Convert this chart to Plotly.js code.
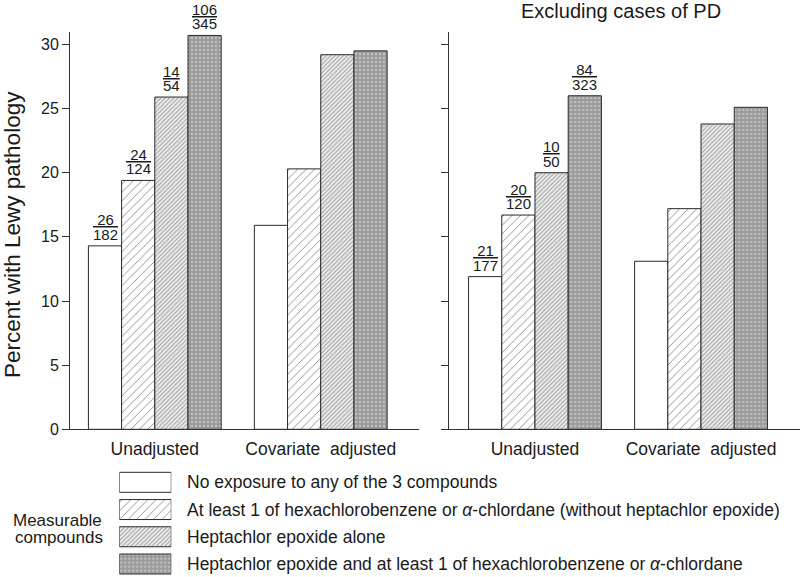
<!DOCTYPE html>
<html><head><meta charset="utf-8">
<script src="https://cdn.plot.ly/plotly-3.0.1.min.js"></script>
<style>html,body{margin:0;padding:0;background:#fff;}</style>
</head><body><div id="chart" style="width:800px;height:577px;"></div>
<script>
// ---- data ----
const categories = ['Unadjusted', 'Covariate\u00a0 adjusted'];
const seriesNames = [
  'No exposure to any of the 3 compounds',
  'At least 1 of hexachlorobenzene or <i>α</i>-chlordane (without heptachlor epoxide)',
  'Heptachlor epoxide alone',
  'Heptachlor epoxide and at least 1 of hexachlorobenzene or <i>α</i>-chlordane'
];
// Left panel: all cases (percent), [Unadjusted, Covariate adjusted]
const allNone      = [14.3, 15.9];
const allHexOrChl  = [19.4, 20.3];
const allHeptAlone = [25.9, 29.2];
const allHeptPlus  = [30.7, 29.5];
// Right panel: excluding cases of PD
const exNone      = [11.9, 13.1];
const exHexOrChl  = [16.7, 17.2];
const exHeptAlone = [20.0, 23.8];
const exHeptPlus  = [26.0, 25.1];
// Counts shown above unadjusted bars
const allNum = [26, 24, 14, 106];
const allDen = [182, 124, 54, 345];
const exNum  = [21, 20, 10, 84];
const exDen  = [177, 120, 50, 323];
const yTicks = [0, 5, 10, 15, 20, 25, 30];
const panelTitle = 'Excluding cases of PD';
const yTitle = 'Percent with Lewy pathology';
const legendTitle = ['Measurable', 'compounds'];

// ---- styles ----
const styles = [
  {color:'#ffffff', pattern:{shape:''}},
  {color:'#ffffff', pattern:{shape:'/', bgcolor:'#ffffff', fgcolor:'#7a7a7a', size:6, solidity:0.13}},
  {color:'#e2e2e2', pattern:{shape:'/', bgcolor:'#ececec', fgcolor:'#9c9c9c', size:3, solidity:0.33}},
  {color:'#9b9b9b', pattern:{shape:'.', bgcolor:'#9b9b9b', fgcolor:'#c4c4c4', size:4, solidity:0.25}}
];
const lineStyle = {color:'#2a2a2a', width:1};
const bargap = 0.2;
const xPos = categories.map((c,i)=>i);

const panels = [
  {xa:'x', ya:'y', vals:[allNone, allHexOrChl, allHeptAlone, allHeptPlus], num:allNum, den:allDen},
  {xa:'x2', ya:'y2', vals:[exNone, exHexOrChl, exHeptAlone, exHeptPlus], num:exNum, den:exDen}
];

const traces = [];
const annotations = [];
const barW = (1 - bargap) / 4;
const txt = '#1a1a1a';
panels.forEach(p => {
  p.vals.forEach((v, i) => {
    traces.push({
      type:'bar', x:xPos, y:v, xaxis:p.xa, yaxis:p.ya, name:seriesNames[i],
      showlegend:false, hoverinfo:'skip',
      marker:{color:styles[i].color, pattern:styles[i].pattern, line:lineStyle}
    });
    // fraction labels over the unadjusted bars
    const xc = xPos[0] + (i - 1.5) * barW;
    const n = String(p.num[i]), d = String(p.den[i]);
    const pad = '\u00a0'.repeat(Math.max(0, d.length - n.length));
    annotations.push({xref:p.xa, yref:p.ya, x:xc, y:v[0], yanchor:'bottom', xanchor:'center',
      text:d, showarrow:false, yshift:1, font:{size:15, color:txt}});
    annotations.push({xref:p.xa, yref:p.ya, x:xc, y:v[0], yanchor:'bottom', xanchor:'center',
      text:'<u>' + pad + n + pad + '</u>', showarrow:false, yshift:15.5, font:{size:15, color:txt}});
  });
});

// legend swatches drawn as bars on a hidden axis pair
seriesNames.forEach((nm, i) => {
  traces.push({
    type:'bar', orientation:'h', y:[i], x:[1], base:[0], width:[0.734], offset:-0.367,
    xaxis:'x3', yaxis:'y3', showlegend:false, hoverinfo:'skip',
    marker:{color:styles[i].color, pattern:styles[i].pattern, line:lineStyle}
  });
  annotations.push({xref:'paper', yref:'y3', x:185/800, y:i, xanchor:'left', yanchor:'middle',
    text:nm, showarrow:false, font:{size:17.5, color:txt}});
});
annotations.push({xref:'paper', yref:'paper', x:58/800, y:1-520/577, xanchor:'center', yanchor:'middle',
  text:legendTitle[0], showarrow:false, font:{size:17, color:txt}});
annotations.push({xref:'paper', yref:'paper', x:59/800, y:1-537/577, xanchor:'center', yanchor:'middle',
  text:legendTitle[1], showarrow:false, font:{size:17, color:txt}});
annotations.push({xref:'paper', yref:'paper', x:621/800, y:1-11/577, xanchor:'center', yanchor:'middle',
  text:panelTitle, showarrow:false, font:{size:20, color:txt}});
annotations.push({xref:'paper', yref:'paper', x:12/800, y:1-235/577, xanchor:'center', yanchor:'middle',
  text:yTitle, textangle:-90, showarrow:false, font:{size:22.5, color:txt}});

const yDom = [1-429.3/577, 1-32/577];
const yRange = [0, 30.97];
const axY = {domain:yDom, range:yRange, tickvals:yTicks, ticks:'outside', ticklen:7, tickcolor:'#333',
  showline:true, linecolor:'#333', linewidth:1, showgrid:false, zeroline:false,
  tickfont:{size:16, color:txt}, fixedrange:true};
const axX = {tickvals:xPos, ticktext:categories, ticks:'', showline:true, linecolor:'#333', linewidth:1,
  showgrid:false, zeroline:false, tickfont:{size:17.5, color:txt}, fixedrange:true, ticklabelstandoff:4};

const layout = {
  width:800, height:577, margin:{l:0, r:0, t:0, b:0},
  paper_bgcolor:'#ffffff', plot_bgcolor:'rgba(0,0,0,0)',
  font:{family:'"Liberation Sans", Arial, sans-serif', color:txt},
  barmode:'group', bargap:bargap, bargroupgap:0, showlegend:false,
  xaxis: Object.assign({}, axX, {domain:[70/800, 419/800], range:[-0.511, 1.592], anchor:'y'}),
  yaxis: Object.assign({}, axY, {anchor:'x'}),
  xaxis2: Object.assign({}, axX, {domain:[449.3/800, 1], range:[-0.516, 1.596], anchor:'y2'}),
  yaxis2: Object.assign({}, axY, {anchor:'x2', showticklabels:false}),
  xaxis3: {domain:[119.3/800, 171.3/800], range:[0, 1], visible:false, anchor:'y3', fixedrange:true},
  yaxis3: {domain:[0, 1-468.7/577], range:[3.477, -0.5], visible:false, anchor:'x3', fixedrange:true},
  annotations: annotations
};
Plotly.newPlot('chart', traces, layout, {displayModeBar:false, staticPlot:true});
</script></body></html>
